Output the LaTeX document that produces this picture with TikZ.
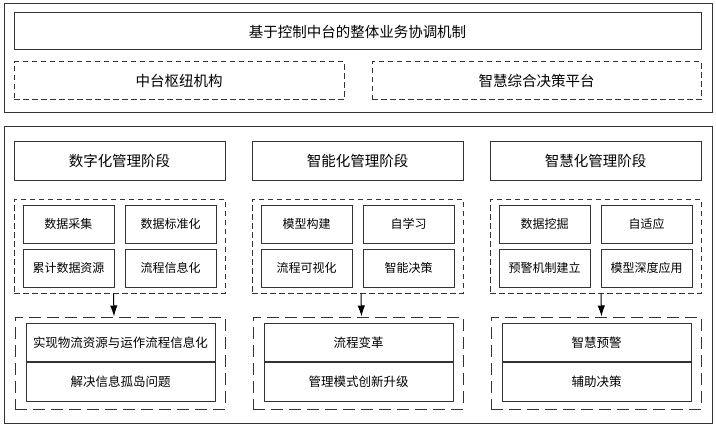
\documentclass[tikz,border=0pt]{standalone}
\usepackage{fontspec}
\setmainfont{Noto Sans CJK SC}
\usetikzlibrary{arrows.meta}

\begin{document}
\begin{tikzpicture}[x=1pt,y=-1pt,
    box/.style={draw=black!80,line width=1pt,inner sep=0pt,align=center},
    bigtext/.style={font=\fontsize{14.5}{16}\selectfont},
    celltext/.style={font=\fontsize{12}{14}\selectfont},
    restext/.style={font=\fontsize{12.5}{14}\selectfont},
    cell/.style={box,celltext,minimum width=91pt,minimum height=38pt},
    phase/.style={box,bigtext,minimum width=211pt,minimum height=38pt},
    result/.style={box,restext,minimum width=189pt,minimum height=38.5pt},
    shortdash/.style={draw=black!80,line width=1pt,dash pattern=on 5.5pt off 3.5pt},
    longdash/.style={draw=black!80,line width=1pt,dash pattern=on 12pt off 6pt},
    outerframe/.style={draw=black!80,line width=1pt},
    flow/.style={-{Latex[length=11pt,width=7.5pt]},line width=1pt}]
        \useasboundingbox (0,0) rectangle (716,428);

        % Top block
        \draw[outerframe] (4,4) rectangle (712,113);
        \node[box,bigtext,minimum width=687pt,minimum height=37pt] (title) at (357.5,31.5) {基于控制中台的整体业务协调机制};
        \node[shortdash,bigtext,minimum width=330pt,minimum height=38pt] (hub) at (179,81) {中台枢纽机构};
        \node[shortdash,bigtext,minimum width=329pt,minimum height=38pt] (platform) at (536.5,81) {智慧综合决策平台};

        % Bottom block
        \draw[outerframe] (4,127) rectangle (712,423);

        % Stage 1
        \node[phase] (phase1) at (119.5,161) {数字化管理阶段};
        \node[shortdash,minimum width=211pt,minimum height=94pt] (grid1) at (119.5,246) {};
        \node[cell] (c11) at (68.5,224) {数据采集};
        \node[cell] (c12) at (170.5,224) {数据标准化};
        \node[cell] (c13) at (68.5,268) {累计数据资源};
        \node[cell] (c14) at (170.5,268) {流程信息化};
        \node[longdash,minimum width=210pt,minimum height=92pt] (res1) at (120,363) {};
        \node[result] (r11) at (120.5,342.5) {实现物流资源与运作流程信息化};
        \node[result] (r12) at (120.5,382) {解决信息孤岛问题};
        \draw[flow] ([xshift=-6pt]grid1.south) -- ([xshift=-6pt]res1.north);

        % Stage 2
        \node[phase] (phase2) at (357.5,161) {智能化管理阶段};
        \node[shortdash,minimum width=211pt,minimum height=94pt] (grid2) at (357.5,246) {};
        \node[cell] (c21) at (306.5,224) {模型构建};
        \node[cell] (c22) at (408.5,224) {自学习};
        \node[cell] (c23) at (306.5,268) {流程可视化};
        \node[cell] (c24) at (408.5,268) {智能决策};
        \node[longdash,minimum width=210pt,minimum height=92pt] (res2) at (358,363) {};
        \node[result] (r21) at (358.5,342.5) {流程变革};
        \node[result] (r22) at (358.5,382) {管理模式创新升级};
        \draw[flow] ([xshift=3.5pt]grid2.south) -- ([xshift=3.5pt]res2.north);

        % Stage 3
        \node[phase] (phase3) at (595.5,161) {智慧化管理阶段};
        \node[shortdash,minimum width=211pt,minimum height=94pt] (grid3) at (595.5,246) {};
        \node[cell] (c31) at (544.5,224) {数据挖掘};
        \node[cell] (c32) at (646.5,224) {自适应};
        \node[cell] (c33) at (544.5,268) {预警机制建立};
        \node[cell] (c34) at (646.5,268) {模型深度应用};
        \node[longdash,minimum width=210pt,minimum height=92pt] (res3) at (596,363) {};
        \node[result] (r31) at (596.5,342.5) {智慧预警};
        \node[result] (r32) at (596.5,382) {辅助决策};
        \draw[flow] ([xshift=5.5pt]grid3.south) -- ([xshift=5.5pt]res3.north);
    \end{tikzpicture}
\end{document}
